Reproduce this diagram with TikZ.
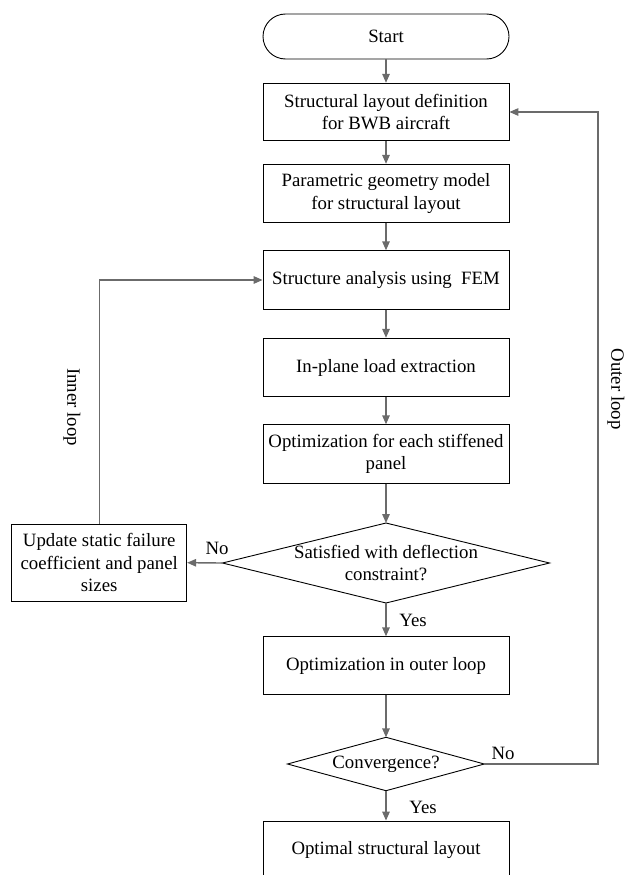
\documentclass[tikz,border=0pt]{standalone}
\usepackage{fontspec}
\setmainfont{Liberation Serif}
\usetikzlibrary{arrows.meta,calc}
\definecolor{arr}{HTML}{6B6B6B}
\begin{document}
\begin{tikzpicture}[x=1pt,y=-1pt,
  every node/.style={font=\fontsize{18.8}{22.5}\selectfont},
  proc/.style={draw=black, line width=0.9pt, minimum width=246pt, align=center, inner sep=2pt},
  flow/.style={draw=arr, line width=1.4pt, -{Triangle[length=9pt,width=7.5pt]}},
  lbl/.style={inner sep=0pt, align=center}]
\useasboundingbox (0,0) rectangle (627,875);
\clip (0,0) rectangle (627,875);

\node[proc, minimum height=45pt, rounded corners=22.5pt] (start) at (386,36.5) {Start};
\node[proc, minimum height=57.5pt] (b1) at (386,112) {Structural layout definition\\for BWB aircraft};
\node[proc, minimum height=58pt] (b2) at (386,193.3) {Parametric geometry model\\for structural layout};
\node[proc, minimum height=58.5pt] (b3) at (386,280) {Structure analysis using\ \ FEM};
\node[proc, minimum height=58.5pt] (b4) at (386,367.5) {In-plane load extraction};
\node[proc, minimum height=58.5pt] (b5) at (386,454) {Optimization for each stiffened\\panel};

\node[lbl] (d1) at (386,563) {Satisfied with deflection\\constraint?};
\coordinate (d1n) at (386,523);
\coordinate (d1s) at (386,603);
\coordinate (d1w) at (222.5,563);
\coordinate (d1e) at (549.5,563);
\draw[line width=0.9pt] (d1n) -- (d1e) -- (d1s) -- (d1w) -- cycle;

\node[proc, minimum width=175pt, minimum height=77pt] (upd) at (99.2,562.7) {Update static failure\\coefficient and panel\\sizes};

\node[proc, minimum height=57.5pt] (b6) at (386,665.5) {Optimization in outer loop};

\node[lbl] (d2) at (386,764) {Convergence?};
\coordinate (d2n) at (386,737.3);
\coordinate (d2s) at (386,790.7);
\coordinate (d2w) at (287.5,764);
\coordinate (d2e) at (484.3,764);
\draw[line width=0.9pt] (d2n) -- (d2e) -- (d2s) -- (d2w) -- cycle;

\node[proc, minimum height=58pt] (b7) at (386,850) {Optimal structural layout};

\draw[flow] (start.south) -- (b1.north);
\draw[flow] (b1.south) -- (b2.north);
\draw[flow] (b2.south) -- (b3.north);
\draw[flow] (b3.south) -- (b4.north);
\draw[flow] (b4.south) -- (b5.north);
\draw[flow] (b5.south) -- (d1n);
\draw[flow] (d1s) -- (b6.north);
\draw[flow] (b6.south) -- (d2n);
\draw[flow] (d2s) -- (b7.north);

\draw[flow] (d1w) -- (upd.east);
\draw[flow] (upd.north) -- (upd.north |- b3.west) -- (b3.west);

\coordinate (oc) at (598,764);
\draw[flow] (d2e) -- (oc) |- (b1.east);

\node[lbl] (no1) at (217,548) {No};
\node[lbl] (yes1) at (413,620) {Yes};
\node[lbl] (no2) at (503,753) {No};
\node[lbl] (yes2) at (423,807) {Yes};
\node[lbl, rotate=-90] (inner) at (72,407) {Inner loop};
\node[lbl, rotate=-90] (outer) at (616,389) {Outer loop};
\end{tikzpicture}
\end{document}
